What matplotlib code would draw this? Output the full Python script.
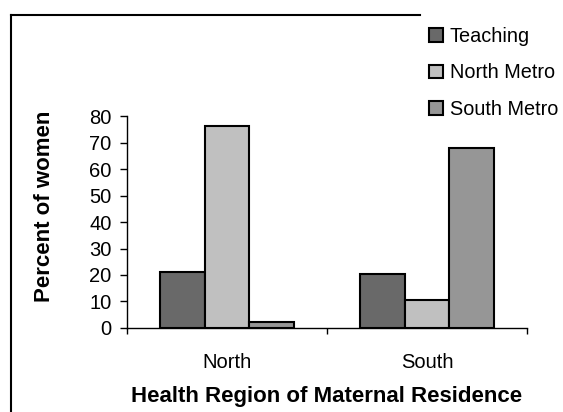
import matplotlib.pyplot as plt
import numpy as np
from matplotlib.lines import Line2D

regions = ['North', 'South']
series = ['Teaching', 'North Metro', 'South Metro']
teaching = [21.1, 20.4]
north_metro = [76.2, 10.6]
south_metro = [2.3, 68.0]
colors = ['#696969', '#c0c0c0', '#969696']

plt.rcParams['font.family'] = ['Liberation Sans', 'DejaVu Sans']

fig = plt.figure(figsize=(5.63, 4.12), dpi=100)
ax = fig.add_axes([0.2256, 0.2039, 0.7105, 0.5145])

x = np.arange(len(regions))
w = 0.223
for i, (vals, c) in enumerate(zip([teaching, north_metro, south_metro], colors)):
    ax.bar(x + (i - 1) * w, vals, w, color=c, edgecolor='black',
           linewidth=1.5, label=series[i])

ax.set_xlim(-0.5, 1.5)
ax.set_ylim(0, 80)
ax.set_yticks(range(0, 81, 10))
ax.set_xticks([-0.5, 0.5, 1.5])
ax.set_xticklabels([])
ax.set_xticks(x, minor=True)
ax.set_xticklabels(regions, minor=True)
ax.tick_params(axis='x', which='minor', length=0, pad=18, labelsize=14.5)
ax.tick_params(axis='x', which='major', length=4.5, width=1, direction='out')
ax.tick_params(axis='y', length=5, width=1, direction='out', labelsize=14.5, pad=6)
for s in ['top', 'right']:
    ax.spines[s].set_visible(False)
ax.spines['left'].set_linewidth(1)
ax.spines['bottom'].set_linewidth(1)

ax.set_ylabel('Percent of women', fontsize=16, fontweight='bold')
ax.yaxis.set_label_coords(-0.18, 0.575)
ax.set_xlabel('Health Region of Maternal Residence', fontsize=16,
              fontweight='bold', labelpad=10)

# outer frame (left and top edges only visible)
fig.add_artist(Line2D([11 / 563, 11 / 563], [0, 1 - 15 / 412],
                      transform=fig.transFigure, color='black', lw=1.5))
fig.add_artist(Line2D([11 / 563, 420 / 563], [1 - 15 / 412, 1 - 15 / 412],
                      transform=fig.transFigure, color='black', lw=1.5))

handles, labels = ax.get_legend_handles_labels()
fig.legend(handles, labels, loc='upper left', bbox_to_anchor=(425 / 563, 1 - 23 / 412),
           frameon=False, fontsize=14.3, handlelength=0.7, handleheight=0.7,
           handletextpad=0.35, labelspacing=0.88, borderpad=0.2, borderaxespad=0)

fig.savefig('out.png', dpi=100)
